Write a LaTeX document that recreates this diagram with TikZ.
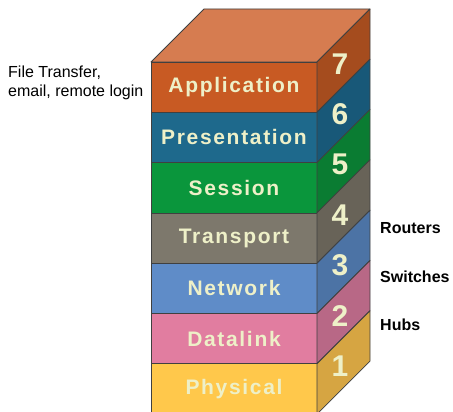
\documentclass[tikz,border=0pt]{standalone}
\usepackage{fontspec}
\setmainfont{Liberation Sans}
\newfontfamily\layfont[LetterSpace=8]{Liberation Sans}
\usetikzlibrary{positioning}

\definecolor{topF}{RGB}{214,124,80}
\definecolor{appF}{RGB}{200,90,35}
\definecolor{appS}{RGB}{165,76,30}
\definecolor{preF}{RGB}{30,105,140}
\definecolor{preS}{RGB}{24,88,120}
\definecolor{sesF}{RGB}{10,150,60}
\definecolor{sesS}{RGB}{10,124,50}
\definecolor{traF}{RGB}{125,120,108}
\definecolor{traS}{RGB}{104,99,88}
\definecolor{netF}{RGB}{95,140,200}
\definecolor{netS}{RGB}{76,115,165}
\definecolor{datF}{RGB}{225,125,160}
\definecolor{datS}{RGB}{184,104,134}
\definecolor{phyF}{RGB}{255,200,75}
\definecolor{phyS}{RGB}{214,165,66}
\definecolor{cream}{RGB}{238,240,200}

\begin{document}
\begin{tikzpicture}[x=1pt,y=-1pt,join=round, % OSI stack
  edge/.style={draw=black!75,line width=0.8pt},
  laytext/.style={text=cream,inner sep=0pt,font=\layfont\bfseries\fontsize{21}{21}\selectfont},
  numtext/.style={text=cream,inner sep=0pt,font=\bfseries\fontsize{30}{30}\selectfont},
  devtext/.style={anchor=west,inner sep=0pt,font=\bfseries\fontsize{16}{16}\selectfont}]
  \useasboundingbox (0,0) rectangle (453,412);
  \filldraw[edge,fill=topF](151,62)--(204,9)--(370,9)--(317,62)--cycle;
  \foreach \n/\name/\fc/\sc [count=\k from 0] in
     {7/Application/appF/appS,6/Presentation/preF/preS,5/Session/sesF/sesS,
      4/Transport/traF/traS,3/Network/netF/netS,2/Datalink/datF/datS,1/Physical/phyF/phyS}{
    \pgfmathsetmacro\yt{62+50.3*\k}
    \pgfmathsetmacro\yb{\yt+50.3}
    \filldraw[edge,fill=\fc](151,\yt) rectangle (317,\yb);
    \filldraw[edge,fill=\sc](317,\yt)--(370,\yt-53)--(370,\yb-53)--(317,\yb)--cycle;
    \node[laytext] (lay\n) at (234,{(\yt+\yb)/2}) {\name};
    \node[numtext] (num\n) at (340,{(\yt+\yb)/2-23}) {\n};
  }
  \node[anchor=north west,inner sep=0pt,align=left,font=\fontsize{16}{18.5}\selectfont]
     (apps) at (8,66) {File Transfer,\\email, remote login};
  \node[devtext] (routers) at (380,228) {Routers};
  \node[devtext] (switches) at (380,277) {Switches};
  \node[devtext] (hubs) at (380,325) {Hubs};
\end{tikzpicture}
\end{document}
